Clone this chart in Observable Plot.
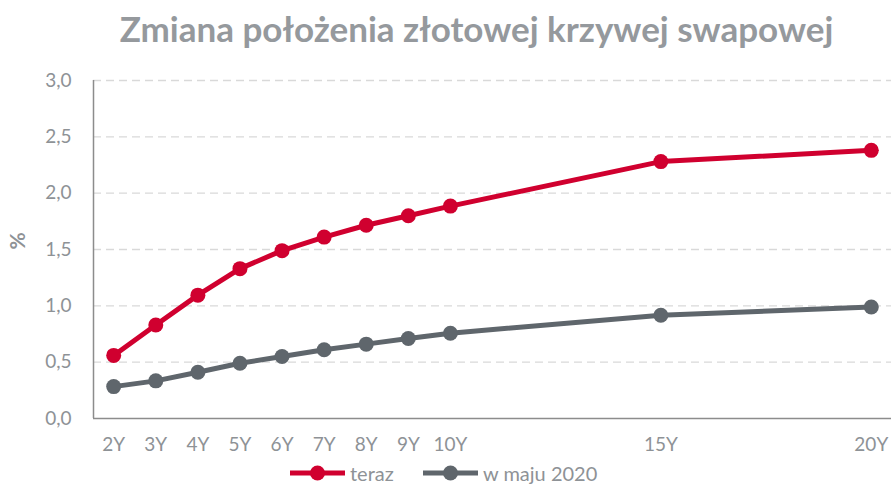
<!DOCTYPE html>
<html>
<head>
<meta charset="utf-8">
<script src="https://cdn.jsdelivr.net/npm/d3@7"></script>
<script src="https://cdn.jsdelivr.net/npm/@observablehq/plot@0.6"></script>
<style>
  html, body { margin: 0; padding: 0; background: #fff; }
  body { width: 893px; height: 485px; overflow: hidden; font-family: Lato, "Open Sans", sans-serif; position: relative; }
  #title { position: absolute; left: 0; top: 0; width: 893px; height: 60px; box-sizing: border-box; padding-left: 60px;
           text-align: center; font-weight: 700; font-size: 35px; line-height: 56px; color: #95999d; white-space: nowrap; }
  #chart { position: absolute; left: 0; top: 60px; }
  #legend { position: absolute; left: 0; top: 460px; width: 893px; height: 25px; }
  .item { position: absolute; top: 0; height: 25px; display: flex; align-items: center; font-size: 20px; color: #8e9296; }
  .item svg { margin-right: 5px; }
</style>
</head>
<body>
<div id="title">Zmiana położenia złotowej krzywej swapowej</div>
<div id="chart"></div>
<div id="legend"></div>
<script>
// Data
const tenors = [2, 3, 4, 5, 6, 7, 8, 9, 10, 15, 20];
const tenorLabels = ["2Y", "3Y", "4Y", "5Y", "6Y", "7Y", "8Y", "9Y", "10Y", "15Y", "20Y"];
const teraz = [0.56, 0.83, 1.095, 1.33, 1.49, 1.61, 1.715, 1.80, 1.885, 2.28, 2.38];
const wMaju2020 = [0.283, 0.334, 0.41, 0.49, 0.55, 0.61, 0.66, 0.71, 0.757, 0.917, 0.99];
const seriesNames = ["teraz", "w maju 2020"];
const seriesColors = ["#d0002f", "#5f666c"];
const yTicks = [0, 0.5, 1, 1.5, 2, 2.5, 3];

const rows = [];
tenors.forEach((t, i) => {
  rows.push({tenor: t, value: teraz[i], series: seriesNames[0]});
  rows.push({tenor: t, value: wMaju2020[i], series: seriesNames[1]});
});
const colorOf = s => seriesColors[seriesNames.indexOf(s)];
const labelOf = t => tenorLabels[tenors.indexOf(t)];
const xDomain = [1.52, 20.48];

const chart = Plot.plot({
  width: 893,
  height: 400,
  marginLeft: 93,
  marginRight: 2,
  marginTop: 20,
  marginBottom: 42,
  style: { fontFamily: "Lato, 'Open Sans', sans-serif", fontSize: "19px", color: "#8e9296", background: "white" },
  x: { domain: xDomain },
  y: { domain: [0, 3] },
  marks: [
    Plot.gridY(yTicks.filter(d => d > 0), { stroke: "#d9d9d9", strokeOpacity: 1, strokeWidth: 1.3, strokeDasharray: "8,5" }),
    Plot.ruleY([0], { stroke: "#8c8c8c", strokeWidth: 1.5 }),
    Plot.ruleX([xDomain[0]], { y1: 0, y2: 3, stroke: "#8c8c8c", strokeWidth: 1.5 }),
    Plot.line(rows, { x: "tenor", y: "value", z: "series", stroke: d => colorOf(d.series), strokeWidth: 5 }),
    Plot.dot(rows, { x: "tenor", y: "value", fill: d => colorOf(d.series), r: 7.5 }),
    Plot.axisX(tenors, { tickSize: 0, tickPadding: 19, tickFormat: labelOf, label: null, fill: "#8e9296", fontSize: 19 }),
    Plot.axisY(yTicks, { tickSize: 0, tickPadding: 22, tickFormat: d => d.toFixed(1).replace(".", ","), label: null, fill: "#8e9296", fontSize: 19 }),
    Plot.text(["%"], { frameAnchor: "left", dx: -75, rotate: -90, fill: "#8e9296", fontWeight: "bold", fontSize: 21 })
  ]
});
document.getElementById("chart").appendChild(chart);

// Legend
const legend = document.getElementById("legend");
const legendLeft = [290, 423];
seriesNames.forEach((name, i) => {
  const item = document.createElement("div");
  item.className = "item";
  item.style.left = legendLeft[i] + "px";
  item.innerHTML = `<svg width="55" height="16"><line x1="0" y1="8" x2="55" y2="8" stroke="${seriesColors[i]}" stroke-width="5"/><circle cx="27.5" cy="8" r="7.5" fill="${seriesColors[i]}"/></svg><span>${name}</span>`;
  legend.appendChild(item);
});
</script>
</body>
</html>
